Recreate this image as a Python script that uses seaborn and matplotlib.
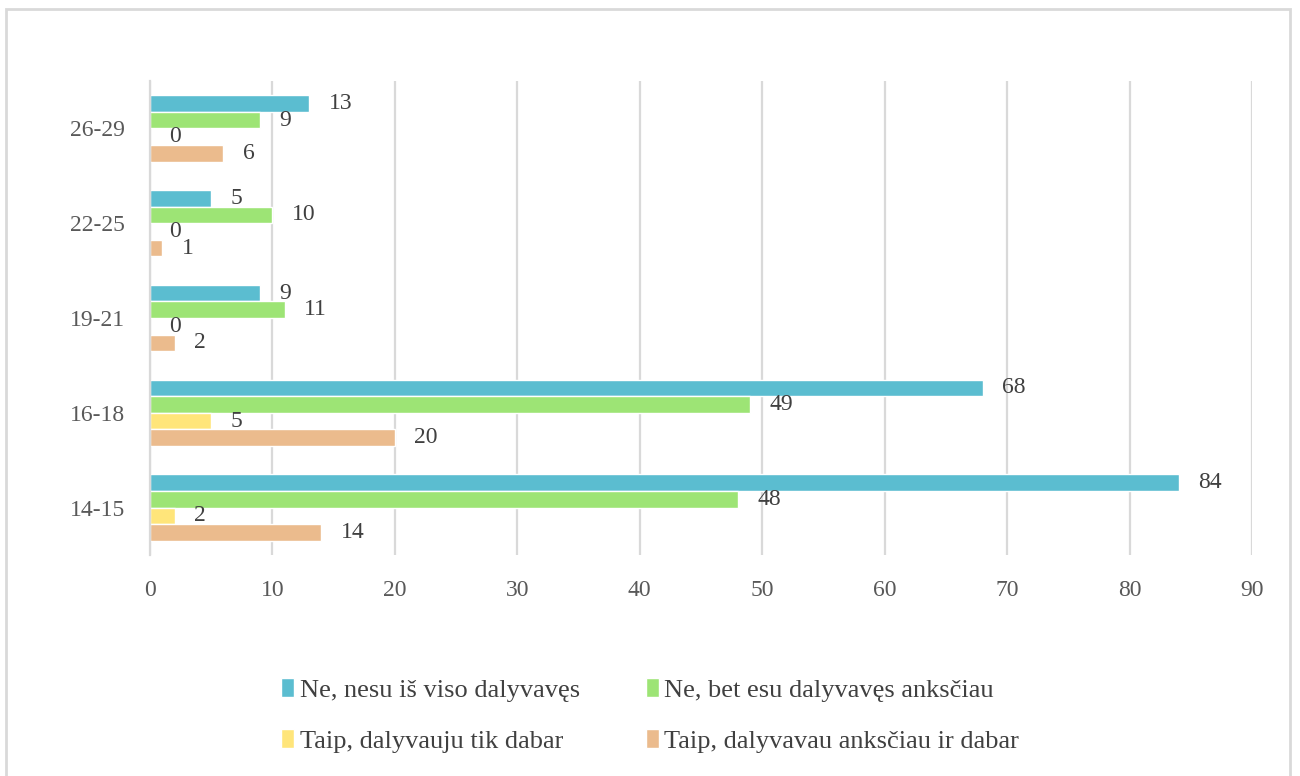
import matplotlib
matplotlib.use('Agg')

import matplotlib.pyplot as plt
import seaborn as sns
import pandas as pd
from matplotlib.patches import Rectangle

# chart data
age_groups = ['26-29', '22-25', '19-21', '16-18', '14-15']
series = ['Ne, nesu iš viso dalyvavęs',
          'Ne, bet esu dalyvavęs anksčiau',
          'Taip, dalyvauju tik dabar',
          'Taip, dalyvavau anksčiau ir dabar']
never = [13, 5, 9, 68, 84]
before = [9, 10, 11, 49, 48]
now_only = [0, 0, 0, 5, 2]
before_and_now = [6, 1, 2, 20, 14]
colors = ['#5BBDD0', '#9DE475', '#FFE57A', '#EBBB8D']

rows = []
for name, vals in zip(series, [never, before, now_only, before_and_now]):
    for g, v in zip(age_groups, vals):
        rows.append({'group': g, 'answer': name, 'count': v})
df = pd.DataFrame(rows)

sns.set_style('white')
plt.rcParams['font.family'] = ['Liberation Serif', 'DejaVu Serif']

fig = plt.figure(figsize=(13, 7.76), dpi=100)
ax = fig.add_axes([0.1154, 0.2848, 0.8477, 0.6108])

sns.barplot(data=df, x='count', y='group', hue='answer', order=age_groups,
            hue_order=series, palette=colors, width=0.70, orient='h',
            saturation=1, ax=ax)

for cont in ax.containers:
    ax.bar_label(cont, fmt='%g', padding=14, fontsize=17, color='#404040')

ax.set_xlim(0, 90)
ax.set_xticks(range(0, 91, 10))
ax.xaxis.grid(True, color='#d9d9d9', linewidth=1.6)
ax.set_axisbelow(True)
for s in ['top', 'right', 'bottom']:
    ax.spines[s].set_visible(False)
ax.spines['left'].set_color('#d9d9d9')
ax.spines['left'].set_linewidth(1.6)
ax.set_xlabel('')
ax.set_ylabel('')
ax.tick_params(axis='x', labelsize=17, labelcolor='#595959', length=0, pad=18)
ax.tick_params(axis='y', labelsize=17, labelcolor='#595959', length=0, pad=18)

handles, labels = ax.get_legend_handles_labels()
ax.legend_.remove()
idx = [0, 2, 1, 3]
fig.legend([handles[i] for i in idx], [labels[i] for i in idx],
           loc='center', bbox_to_anchor=(0.5, 0.078), ncol=2, frameon=False,
           fontsize=19, labelcolor='#404040', handlelength=0.5, handleheight=0.7,
           handletextpad=0.2, columnspacing=2.5, labelspacing=1.05)

fig.patches.append(Rectangle((6 / 1300, -0.05), 1284 / 1300, 1.05 - 9 / 776,
                             transform=fig.transFigure, fill=False,
                             edgecolor='#d9d9d9', linewidth=2))

fig.savefig('out.png', dpi=100)
